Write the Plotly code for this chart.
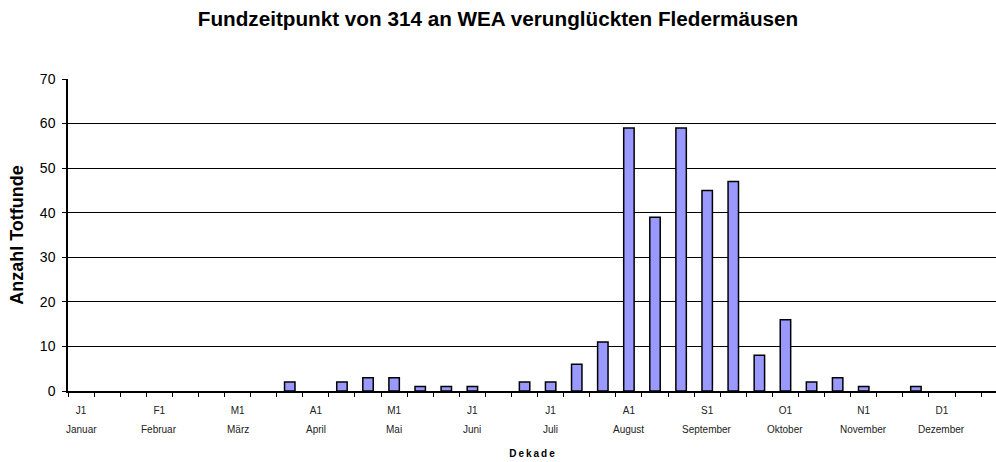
import plotly.graph_objects as go

# decade codes (3 per month), Jan..Dec
decades = ["J1", "J2", "J3", "F1", "F2", "F3", "M1", "M2", "M3", "A1", "A2", "A3",
           "M1", "M2", "M3", "J1", "J2", "J3", "J1", "J2", "J3", "A1", "A2", "A3",
           "S1", "S2", "S3", "O1", "O2", "O3", "N1", "N2", "N3", "D1", "D2", "D3"]
counts = [0, 0, 0, 0, 0, 0, 0, 0, 2, 0, 2, 3,
          3, 1, 1, 1, 0, 2, 2, 6, 11, 59, 39, 59,
          45, 47, 8, 16, 2, 3, 1, 0, 1, 0, 0, 0]
months = ["Januar", "Februar", "März", "April", "Mai", "Juni",
          "Juli", "August", "September", "Oktober", "November", "Dezember"]

x_idx = list(range(len(decades)))
first_idx = [i for i in x_idx if i % 3 == 0]
first_lbl = [decades[i] for i in first_idx]
boundaries = [i - 0.5 for i in range(len(decades) + 1)]
# empty decades get no bar drawn
bar_y = [c if c > 0 else None for c in counts]

FONT = "Liberation Sans, Arial, sans-serif"

fig = go.Figure()
fig.add_trace(go.Bar(
    x=x_idx, y=bar_y, width=0.4,
    marker=dict(color="#9999FF", line=dict(color="#000000", width=1.5)),
    showlegend=False, hoverinfo="skip",
))

for i, m in zip(first_idx, months):
    fig.add_annotation(x=i, xref="x", y=-0.122, yref="paper", text=m,
                       showarrow=False, yanchor="middle", xanchor="center",
                       font=dict(family=FONT, size=10, color="#222222"))

fig.update_layout(
    width=996, height=462,
    margin=dict(l=68, r=0, t=79, b=71),
    paper_bgcolor="white", plot_bgcolor="white",
    title=dict(text="<b>Fundzeitpunkt von 314 an WEA verunglückten Fledermäusen</b>",
               x=0.5, xref="container", xanchor="center",
               y=1 - 18.5 / 462, yanchor="middle",
               font=dict(family=FONT, size=20.7, color="#000000")),
)

fig.update_xaxes(
    range=[-0.5, 35.07],
    tickmode="array", tickvals=first_idx, ticktext=first_lbl,
    ticks="", ticklabelstandoff=9,
    tickfont=dict(family=FONT, size=10, color="#222222"),
    minor=dict(tickmode="array", tickvals=boundaries, ticks="outside",
               ticklen=4, tickcolor="#000000", showgrid=False),
    showline=True, linecolor="#000000", linewidth=1.5,
    showgrid=False, zeroline=False,
    title=dict(text="<b>D\u2009e\u2009k\u2009a\u2009d\u2009e</b>", standoff=35,
               font=dict(family=FONT, size=10, color="#000000")),
    automargin=False,
)

fig.update_yaxes(
    range=[0, 70], dtick=10, tick0=0,
    showgrid=True, gridcolor="#000000", gridwidth=1,
    showline=True, linecolor="#000000", linewidth=1.5,
    ticks="outside", ticklen=4, tickcolor="#000000",
    ticklabelstandoff=4,
    tickfont=dict(family=FONT, size=14, color="#000000"),
    zeroline=False,
    title=dict(text="<b>Anzahl Totfunde</b>", standoff=12,
               font=dict(family=FONT, size=18, color="#000000")),
    automargin=False,
)

fig.write_html("out.html", config={"displayModeBar": False},
               post_script="document.body.style.margin='0';document.body.style.overflow='hidden';")
